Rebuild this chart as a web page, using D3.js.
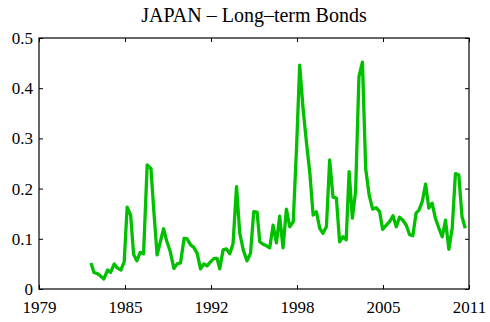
<!DOCTYPE html>
<html><head><meta charset="utf-8">
<script src="https://cdn.jsdelivr.net/npm/d3@7"></script>
<style>
html,body{margin:0;padding:0;background:#fff;}
svg{display:block;}
</style></head>
<body>
<svg id="chart" width="490" height="322"></svg>
<script>
const title = "JAPAN \u2013 Long\u2013term Bonds";
const xTickLabels = ["1979","1985","1992","1998","2005","2011"];
const yTicks = [0, 0.1, 0.2, 0.3, 0.4, 0.5];
const dates = [1982.87,1983.09,1983.31,1983.53,1983.83,1984.11,1984.33,1984.60,1984.82,1985.10,
1985.34,1985.56,1985.82,1986.04,1986.28,1986.53,1986.78,1987.05,1987.33,1987.56,
1987.79,1988.03,1988.27,1988.51,1988.76,1989.04,1989.28,1989.53,1989.80,1990.02,
1990.28,1990.52,1990.77,1991.02,1991.27,1991.51,1991.76,1992.03,1992.25,1992.45,
1992.70,1992.95,1993.20,1993.44,1993.70,1993.94,1994.20,1994.48,1994.74,1994.98,
1995.23,1995.43,1995.67,1995.93,1996.17,1996.42,1996.67,1996.91,1997.16,1997.41,
1997.66,1997.92,1998.18,1998.40,1998.65,1998.91,1999.16,1999.40,1999.64,1999.89,
2000.13,2000.39,2000.63,2000.88,2001.13,2001.37,2001.62,2001.86,2002.08,2002.32,
2002.56,2002.81,2003.07,2003.31,2003.57,2003.83,2004.09,2004.35,2004.57,2004.85,
2005.09,2005.34,2005.59,2005.83,2006.08,2006.33,2006.58,2006.82,2007.06,2007.28,
2007.52,2007.77,2008.01,2008.25,2008.50,2008.76,2009.01,2009.25,2009.50,2009.75,
2009.99,2010.24,2010.48,2010.72];
const values = [0.052,0.033,0.031,0.027,0.020,0.038,0.033,0.050,0.042,0.038,
0.054,0.163,0.147,0.069,0.056,0.073,0.070,0.247,0.240,0.150,
0.068,0.094,0.120,0.095,0.075,0.041,0.050,0.052,0.101,0.100,
0.088,0.083,0.071,0.040,0.050,0.046,0.054,0.061,0.061,0.040,
0.078,0.080,0.070,0.090,0.204,0.111,0.078,0.056,0.071,0.154,
0.153,0.094,0.089,0.086,0.082,0.127,0.092,0.145,0.082,0.159,
0.124,0.134,0.290,0.446,0.360,0.290,0.230,0.147,0.154,0.121,
0.111,0.124,0.257,0.183,0.181,0.094,0.104,0.098,0.234,0.141,
0.194,0.423,0.452,0.240,0.187,0.159,0.162,0.154,0.119,0.127,
0.134,0.146,0.124,0.143,0.137,0.127,0.108,0.106,0.151,0.157,
0.174,0.209,0.161,0.171,0.141,0.121,0.104,0.137,0.079,0.121,
0.230,0.227,0.144,0.121];

const FONT = '"Liberation Serif", "Times New Roman", serif';
const svg = d3.select("#chart");
const L = 39, R = 469, T = 38, B = 289;
const x = d3.scaleLinear().domain([1979, 2011]).range([L, R]);
const y = d3.scaleLinear().domain([0, 0.5]).range([B, T]);
const xTickVals = xTickLabels.map((d, i) => 1979 + i * (2011 - 1979) / (xTickLabels.length - 1));

// title
svg.append("text").attr("x", (L + R) / 2).attr("y", 22)
  .attr("text-anchor", "middle").attr("font-family", FONT).attr("font-size", 20)
  .attr("fill", "#000").text(title);

// line
const line = d3.line().x((d, i) => x(dates[i])).y(d => y(d));
svg.append("path").datum(values).attr("d", line)
  .attr("fill", "none").attr("stroke", "#00c000").attr("stroke-width", 3.3)
  .attr("stroke-linejoin", "round");

// axes
const fmtX = (d) => xTickLabels[xTickVals.indexOf(d)];
const fmtY = (d) => d === 0 ? "0" : d3.format(".1f")(d);
const ax = (g) => g.attr("font-family", FONT).attr("font-size", 17)
  .call(s => s.select(".domain").remove())
  .call(s => s.selectAll(".tick line").attr("stroke", "#000"))
  .call(s => s.selectAll(".tick text").attr("fill", "#000"));
svg.append("g").attr("transform", `translate(0,${B})`)
  .call(d3.axisBottom(x).tickValues(xTickVals).tickFormat(fmtX).tickSizeInner(-4).tickSizeOuter(0).tickPadding(12))
  .call(ax);
svg.append("g").attr("transform", `translate(0,${T})`)
  .call(d3.axisTop(x).tickValues(xTickVals).tickFormat("").tickSizeInner(-4).tickSizeOuter(0))
  .call(ax);
svg.append("g").attr("transform", `translate(${L},0)`)
  .call(d3.axisLeft(y).tickValues(yTicks).tickFormat(fmtY).tickSizeInner(-4).tickSizeOuter(0).tickPadding(6))
  .call(ax);
svg.append("g").attr("transform", `translate(${R},0)`)
  .call(d3.axisRight(y).tickValues(yTicks).tickFormat("").tickSizeInner(-4).tickSizeOuter(0))
  .call(ax);
svg.append("rect").attr("x", L).attr("y", T).attr("width", R - L).attr("height", B - T)
  .attr("fill", "none").attr("stroke", "#000").attr("stroke-width", 1.2);
</script>
</body></html>
